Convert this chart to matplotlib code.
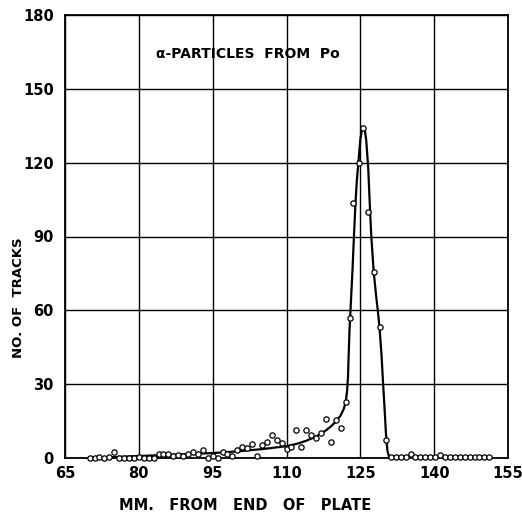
import matplotlib
matplotlib.use("Agg")
import matplotlib.pyplot as plt

# measured points (mm from end of plate, no. of tracks)
pts_x = [70, 71, 72, 73, 74, 75, 76, 77, 78, 79, 80, 81, 82, 83, 84, 85, 86, 87, 88, 89,
         90, 91, 92, 93, 94, 95, 96, 97, 98, 99, 100, 101, 102, 103, 104, 105, 106, 107, 108, 109,
         110, 111, 112, 113, 114, 115, 116, 117, 118, 119, 120, 121, 122.1, 122.9, 123.6, 124.7,
         125.6, 126.6, 127.7, 128.9, 130.2,
         131.3, 132.3, 133.3, 134.3, 135.2, 136.2, 137.2, 138.2, 139.2, 140.2, 141.2, 142.2, 143.2,
         144.2, 145.2, 146.2, 147.2, 148.2, 149.2, 150.2, 151.2]
pts_y = [0, 0, 0.3, 0, 0.3, 2.3, 0, 0, 0, 0, 0.3, 0, 0, 0, 1.5, 1.5, 1.5, 0.7, 1.3, 0.7,
         1.5, 2.6, 1.6, 3.2, 0, 0.7, 0, 2.5, 1.5, 0.7, 3.1, 4.6, 4.2, 5.8, 1.0, 5.2, 6.3, 9.2, 7.2, 6.2,
         3.5, 4.3, 11.2, 4.5, 11.2, 9.2, 8.3, 10.3, 16.0, 6.3, 15.5, 12.3, 22.7, 57.0, 103.7, 120.0,
         134.0, 100.0, 75.7, 53.4, 7.3,
         0.3, 0.3, 0.3, 0.3, 1.8, 0.3, 0.3, 0.3, 0.3, 0.3, 1.2, 0.3, 0.3,
         0.3, 0.3, 0.3, 0.5, 0.5, 0.5, 0.5, 0.5]

# hand drawn curve
curve_x = [70, 75, 80, 85, 90, 95, 100, 105, 110, 112, 114, 116, 118, 119, 120, 121, 121.6,
           122.0, 122.3, 122.5, 122.6, 122.8, 123.0, 123.4, 123.7, 124.0, 124.3, 124.6, 125.0,
           125.3, 125.6, 125.9, 126.2, 126.6, 126.9, 127.2, 127.7, 128.2, 128.6, 128.9, 129.3,
           129.6, 129.9, 130.2, 130.5, 130.8, 131.2]
curve_y = [0, 0.4, 0.8, 1.2, 1.6, 2.0, 2.7, 3.6, 4.8, 5.7, 7.0, 8.7, 11.2, 12.8, 14.7, 17.3, 19.8,
           22.5, 27, 33, 40, 52, 60, 76, 90, 103, 113, 120, 129.4,
           133.2, 134.6, 133.5, 129, 118, 104, 91, 76, 66, 59, 53, 42,
           31, 21, 10, 3, 0.7, 0]

xticks = [65, 80, 95, 110, 125, 140, 155]
yticks = [0, 30, 60, 90, 120, 150, 180]

fam = ['Liberation Sans Narrow', 'DejaVu Sans']

fig = plt.figure(figsize=(5.22, 5.14), dpi=100)
ax = fig.add_axes([65 / 522, 1 - 458 / 514, 443 / 522, 443 / 514])

ax.plot(curve_x, curve_y, color='black', lw=1.6, zorder=3)
ax.plot(pts_x, pts_y, 'o', mfc='white', mec='black', ms=3.8, mew=0.9, zorder=4, clip_on=False)

ax.set_xlim(65, 155)
ax.set_ylim(0, 180)
ax.set_xticks(xticks)
ax.set_yticks(yticks)
ax.grid(True, color='black', lw=1.0)
ax.set_axisbelow(True)
for s in ax.spines.values():
    s.set_linewidth(1.3)
ax.tick_params(axis='x', length=0, pad=6)
ax.tick_params(axis='y', length=0, pad=8)
for lab in ax.get_xticklabels() + ax.get_yticklabels():
    lab.set_family(fam)
    lab.set_fontweight('bold')
    lab.set_fontsize(10.5)

ax.text(102.2, 164, '\u03b1-PARTICLES  FROM  Po', ha='center', va='center',
        family=fam, fontweight='bold', fontsize=10)

fig.text(245 / 522, 1 - 506 / 514, 'MM.   FROM   END   OF   PLATE',
         ha='center', va='center', family=fam, fontweight='bold', fontsize=10.5)
fig.text(19 / 522, 1 - 298 / 514, 'NO. OF  TRACKS', rotation=90,
         ha='center', va='center', family=fam, fontweight='bold', fontsize=9.5)

fig.savefig('out.png', dpi=100)
